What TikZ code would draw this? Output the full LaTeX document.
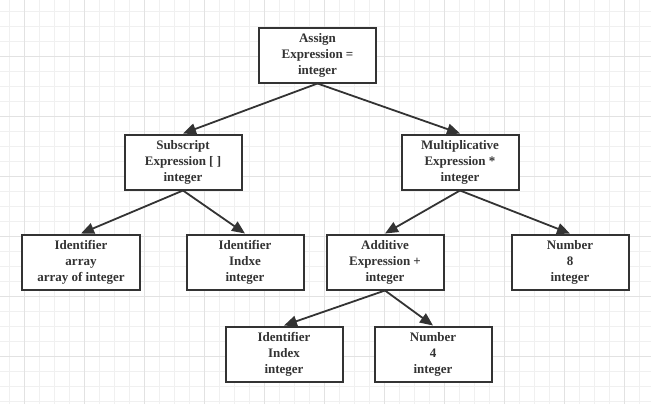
\documentclass[tikz,border=0pt]{standalone}
\usepackage{fontspec}
\setmainfont{Liberation Serif}
\usetikzlibrary{arrows.meta}
\definecolor{ink}{HTML}{333333}
\definecolor{minorline}{HTML}{F0F0F0}
\definecolor{majorline}{HTML}{E2E2E2}
\tikzset{
  box/.style={draw=ink, line width=2bp, fill=white, text=ink,
    minimum width=117bp, minimum height=55bp, inner sep=0pt, align=center,
    font=\fontsize{13bp}{16bp}\selectfont\bfseries},
  edge/.style={draw=ink, line width=1.8bp, -{Triangle[length=13bp,width=11bp]}}
}
\begin{document}
\begin{tikzpicture}[x=1bp, y=-1bp]
  \useasboundingbox (0,0) rectangle (651,404);
  % grid
  \foreach \x in {9.5,24.5,...,651} \draw[minorline, line width=1bp] (\x,0) -- (\x,404);
  \foreach \y in {11.5,26.5,...,404} \draw[minorline, line width=1bp] (0,\y) -- (651,\y);
  \foreach \x in {24.5,84.5,...,651} \draw[majorline, line width=1bp] (\x,0) -- (\x,404);
  \foreach \y in {56.5,116.5,...,404} \draw[majorline, line width=1bp] (0,\y) -- (651,\y);
  % nodes
  \node[box] (assign) at (317.5,55) {Assign\\Expression =\\integer};
  \node[box] (subscript) at (183,162) {Subscript\\Expression [ ]\\integer};
  \node[box] (mult) at (460,162) {Multiplicative\\Expression *\\integer};
  \node[box] (array) at (81,262) {Identifier\\array\\array of integer};
  \node[box] (indxe) at (245,262) {Identifier\\Indxe\\integer};
  \node[box] (additive) at (385,262) {Additive\\Expression +\\integer};
  \node[box] (eight) at (570,262) {Number\\8\\integer};
  \node[box] (index) at (284,354) {Identifier\\Index\\integer};
  \node[box] (four) at (433,354) {Number\\4\\integer};
  % edges
  \draw[edge] (assign.south) -- (subscript.north);
  \draw[edge] (assign.south) -- (mult.north);
  \draw[edge] (subscript.south) -- (array.north);
  \draw[edge] (subscript.south) -- (indxe.north);
  \draw[edge] (mult.south) -- (additive.north);
  \draw[edge] (mult.south) -- (eight.north);
  \draw[edge] (additive.south) -- (index.north);
  \draw[edge] (additive.south) -- (four.north);
\end{tikzpicture}
\end{document}
